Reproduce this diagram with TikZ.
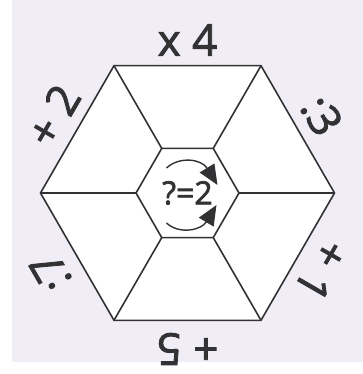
\documentclass[tikz,border=0pt]{standalone}
\usepackage{fontspec}
\setmainfont{Open Sans}
\newfontfamily\opfont[FakeBold=2]{Open Sans}
\usetikzlibrary{arrows.meta}
\definecolor{paper}{RGB}{241,237,246}
\definecolor{ink}{RGB}{50,50,52}
\begin{document}
\begin{tikzpicture}[x=1pt,y=1pt,
    edge/.style={draw=ink,line width=1.6pt,line join=miter},
    op/.style={text=ink,inner sep=0pt,font=\opfont\fontsize{44}{44}\selectfont},
    turn/.style={draw=ink,line width=1.4pt,-{Triangle[length=20pt,width=17pt]}}]
        % Paper
            \fill[paper] (-187.5,-181) rectangle (175.5,193);
            \fill[white] (-187.5,-181) rectangle (-175.5,193);
            \fill[white] (-187.5,-181) rectangle (175.5,-169);
            \useasboundingbox (-187.5,-181) rectangle (175.5,193);
        % Hexagon corners
            \foreach \i in {0,...,5} {
                \coordinate (O\i) at (\i*60:147);
                \coordinate (I\i) at (\i*60:51.5);
            }
        % Hexagon
            \filldraw[edge,fill=white] (O0) -- (O1) -- (O2) -- (O3) -- (O4) -- (O5) -- cycle;
            \draw[edge] (I0) -- (I1) -- (I2) -- (I3) -- (I4) -- (I5) -- cycle;
            \foreach \i in {0,...,5} \draw[edge] (I\i) -- (O\i);
        % Operations
            \node[op] (mul4) at (90:153) {x 4};
            \node[op,rotate=-60] (div3) at (30:155) {:3};
            \node[op,rotate=-120] (add1) at (-30:155) {+ 1};
            \node[op,rotate=180] (add5) at (-90:156) {+ 5};
            \node[op,rotate=120] (div7) at (-150:158) {:7};
            \node[op,rotate=60] (add2) at (150:155) {+ 2};
        % Centre
            \node[text=ink,inner sep=0pt,font=\opfont\fontsize{32}{32}\selectfont] (goal) at (0,0) {?=2};
            \coordinate (ua) at (-21,25);
            \coordinate (ub) at (30,8);
            \coordinate (la) at (-21,-30);
            \coordinate (lb) at (29,-12);
            \draw[turn] (ua) .. controls (-8,37) and (14,34) .. (ub);
            \draw[turn] (la) .. controls (-8,-42) and (14,-37) .. (lb);
        \end{tikzpicture}
\end{document}
